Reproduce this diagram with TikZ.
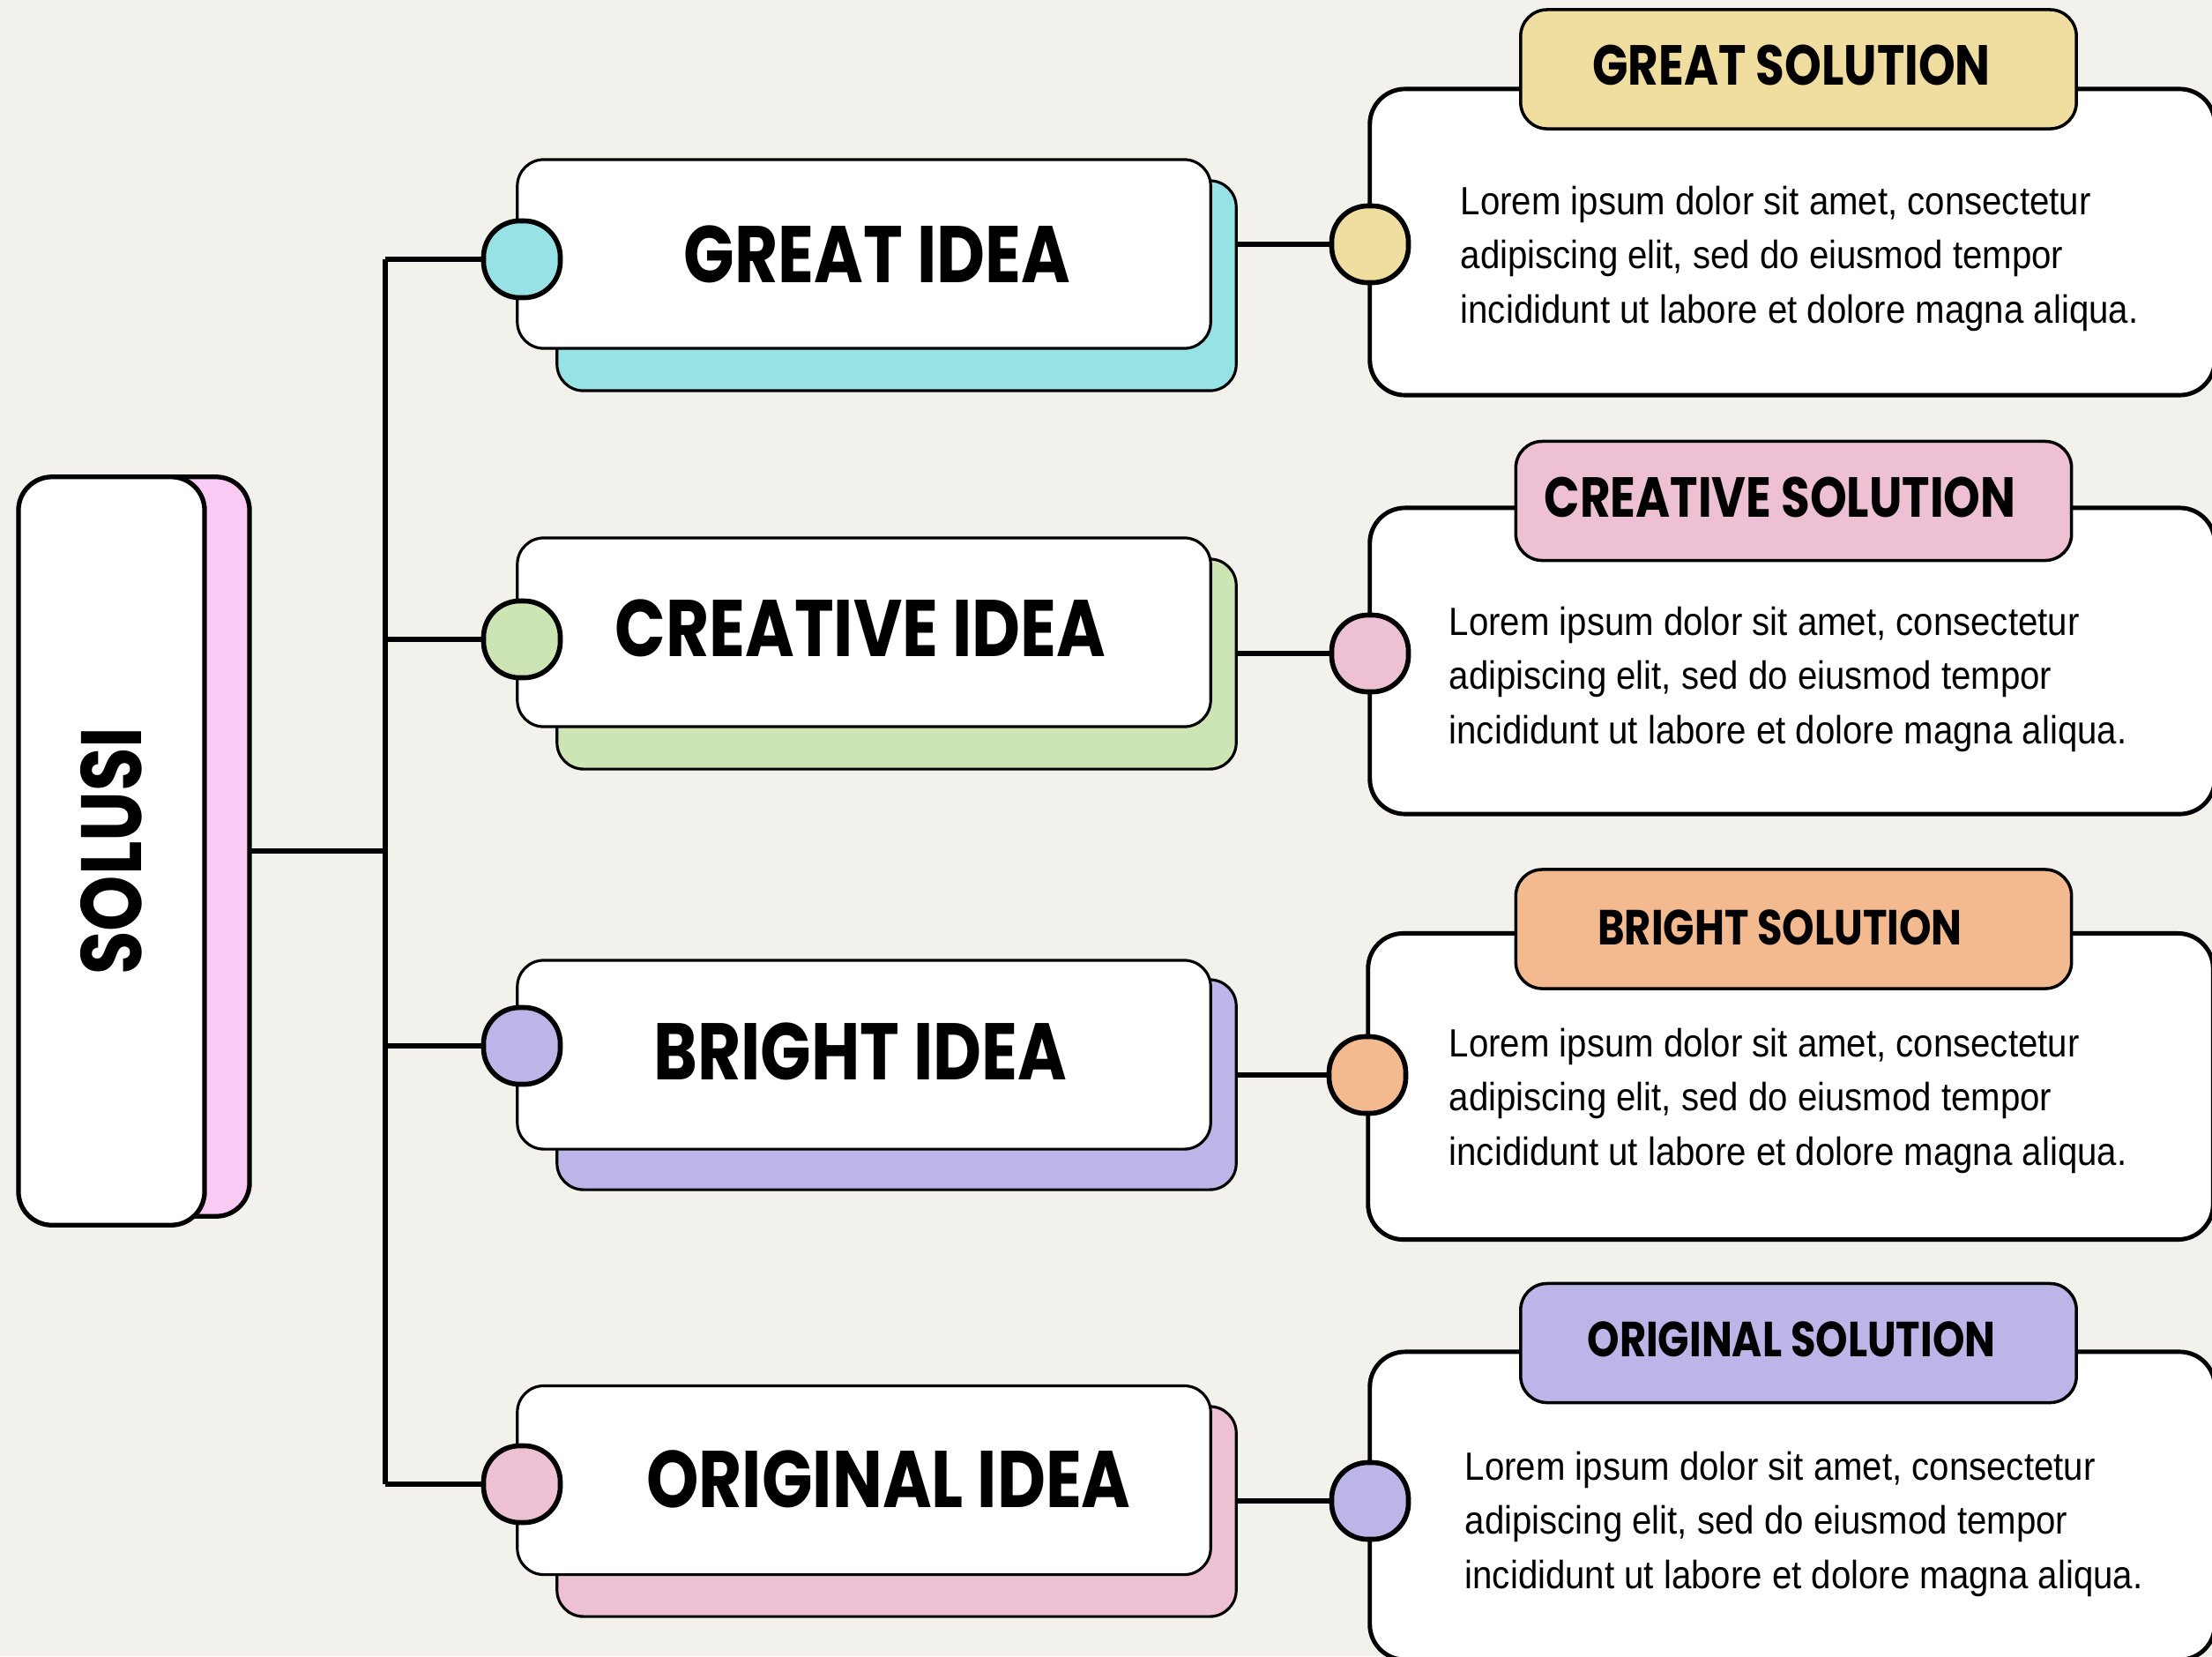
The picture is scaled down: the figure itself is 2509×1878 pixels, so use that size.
\documentclass[tikz,border=0pt]{standalone}
\usepackage{fontspec}
\newfontfamily\handfont{Poppins}[FakeStretch=0.83]
\newfontfamily\bodyfont{Liberation Sans}[FakeStretch=0.9]
\definecolor{bg}{HTML}{F2F1EB}
\definecolor{ccyan}{HTML}{96E2E4}
\definecolor{cgreen}{HTML}{CDE4B4}
\definecolor{clav}{HTML}{BCB5E8}
\definecolor{cpink}{HTML}{EDC0D4}
\definecolor{csol}{HTML}{F9CAF4}
\definecolor{cyel}{HTML}{F0DDA0}
\definecolor{corg}{HTML}{F3B98F}
\tikzset{
  conn/.style={line width=1.5pt},
  ideafront/.style={draw, fill=white, line width=0.9pt, rounded corners=0.3cm, minimum width=7.86cm, minimum height=2.14cm, inner sep=0pt, outer sep=0pt},
  ideaback/.style={draw, line width=0.9pt, rounded corners=0.3cm, minimum width=7.70cm, minimum height=2.38cm, inner sep=0pt, outer sep=0pt},
  knob/.style={draw, line width=1.6pt, rounded corners=0.41cm, minimum width=0.87cm, minimum height=0.87cm, inner sep=0pt, outer sep=0pt},
  solbox/.style={draw, fill=white, line width=1.4pt, rounded corners=0.4cm, minimum width=9.58cm, minimum height=3.47cm, inner sep=0pt, outer sep=0pt},
  tabbox/.style={draw, line width=1pt, rounded corners=0.3cm, minimum width=6.30cm, minimum height=1.35cm, inner sep=0pt, outer sep=0pt},
  ideatext/.style={inner sep=0pt, font=\handfont\bfseries\fontsize{25.9pt}{30pt}\selectfont},
  tabtext/.style={inner sep=0pt, font=\handfont\bfseries\fontsize{#1}{20pt}\selectfont},
  bodytext/.style={inner sep=0pt, anchor=west, align=left, font=\bodyfont\fontsize{12.7pt}{17.5pt}\selectfont},
}
\begin{document}
\begin{tikzpicture}[x=0.01cm,y=-0.01cm]
\useasboundingbox (0,0) rectangle (2509,1878);
\clip (0,0) rectangle (2509,1878);
\fill[bg] (0,0) rectangle (2509,1878);

% trunk coordinates
\coordinate (tr1) at (437,294);
\coordinate (tr4) at (437,1683);
\coordinate (trs) at (437,965);

% SOLUSI
\node[draw, fill=csol, line width=1.5pt, rounded corners=0.38cm, minimum width=2.23cm, minimum height=8.38cm, inner sep=0pt, outer sep=0pt] (sb) at (171.5,960) {};
\node[draw, fill=white, line width=1.5pt, rounded corners=0.38cm, minimum width=2.11cm, minimum height=8.48cm, inner sep=0pt, outer sep=0pt] (sf) at (126.5,965) {};
\node[rotate=90, inner sep=0pt, font=\handfont\bfseries\fontsize{27.6pt}{30pt}\selectfont] (st) at (sf) {SOLUSI};

% idea boxes
\node[ideaback, fill=ccyan] (k1) at (1017,324) {};
\node[ideaback, fill=cgreen] (k2) at (1017,753) {};
\node[ideaback, fill=clav] (k3) at (1017,1230) {};
\node[ideaback, fill=cpink] (k4) at (1017,1714) {};
\node[ideafront] (f1) at (980,288) {};
\node[ideafront] (f2) at (980,717) {};
\node[ideafront] (f3) at (980,1196) {};
\node[ideafront] (f4) at (980,1678.5) {};

% solution boxes
\node[solbox] (s1) at (2033,274.5) {};
\node[solbox] (s2) at (2033,749.5) {};
\node[solbox] (s3) at (2031,1232) {};
\node[solbox, minimum height=3.49cm] (s4) at (2033,1707.5) {};
\node[tabbox, fill=cyel] (g1) at (2040,78.5) {};
\node[tabbox, fill=cpink] (g2) at (2034.5,568) {};
\node[tabbox, fill=corg] (g3) at (2034.5,1053.5) {};
\node[tabbox, fill=clav] (g4) at (2040,1523) {};

% knobs
\node[knob, fill=ccyan] (c1) at (592,294) {};
\node[knob, fill=cgreen] (c2) at (592,725) {};
\node[knob, fill=clav] (c3) at (592,1186) {};
\node[knob, fill=cpink] (c4) at (592,1683) {};
\node[knob, fill=cyel] (d1) at (1554,277) {};
\node[knob, fill=cpink] (d2) at (1554,741) {};
\node[knob, fill=corg] (d3) at (1551,1219) {};
\node[knob, fill=clav] (d4) at (1554,1702) {};

% connectors
\draw[conn] (tr1) -- (tr4);
\draw[conn] (sb.east |- trs) -- (trs);
\draw[conn] (c1 -| tr1) -- (c1.west);
\draw[conn] (c2 -| tr1) -- (c2.west);
\draw[conn] (c3 -| tr1) -- (c3.west);
\draw[conn] (c4 -| tr1) -- (c4.west);
\draw[conn] (k1.east |- d1) -- (d1.west);
\draw[conn] (k2.east |- d2) -- (d2.west);
\draw[conn] (k3.east |- d3) -- (d3.west);
\draw[conn] (k4.east |- d4) -- (d4.west);

% idea titles
\node[ideatext] (t1) at (995,288) {GREAT IDEA};
\node[ideatext] (t2) at (976,712) {CREATIVE IDEA};
\node[ideatext] (t3) at (976,1192) {BRIGHT IDEA};
\node[ideatext] (t4) at (1008,1677) {ORIGINAL IDEA};

% tab titles
\node[tabtext=18.2pt] (h1) at (2032,74) {GREAT SOLUTION};
\node[tabtext=18.2pt] (h2) at (2019,564) {CREATIVE SOLUTION};
\node[tabtext=15.9pt] (h3) at (2019,1052) {BRIGHT SOLUTION};
\node[tabtext=15.9pt] (h4) at (2032,1519) {ORIGINAL SOLUTION};

% body texts
\node[bodytext] (b1) at (1656,293) {Lorem ipsum dolor sit amet, consectetur\\adipiscing elit, sed do eiusmod tempor\\incididunt ut labore et dolore magna aliqua.};
\node[bodytext] (b2) at (1643,770) {Lorem ipsum dolor sit amet, consectetur\\adipiscing elit, sed do eiusmod tempor\\incididunt ut labore et dolore magna aliqua.};
\node[bodytext] (b3) at (1643,1248) {Lorem ipsum dolor sit amet, consectetur\\adipiscing elit, sed do eiusmod tempor\\incididunt ut labore et dolore magna aliqua.};
\node[bodytext] (b4) at (1661,1728) {Lorem ipsum dolor sit amet, consectetur\\adipiscing elit, sed do eiusmod tempor\\incididunt ut labore et dolore magna aliqua.};
\end{tikzpicture}
\end{document}
